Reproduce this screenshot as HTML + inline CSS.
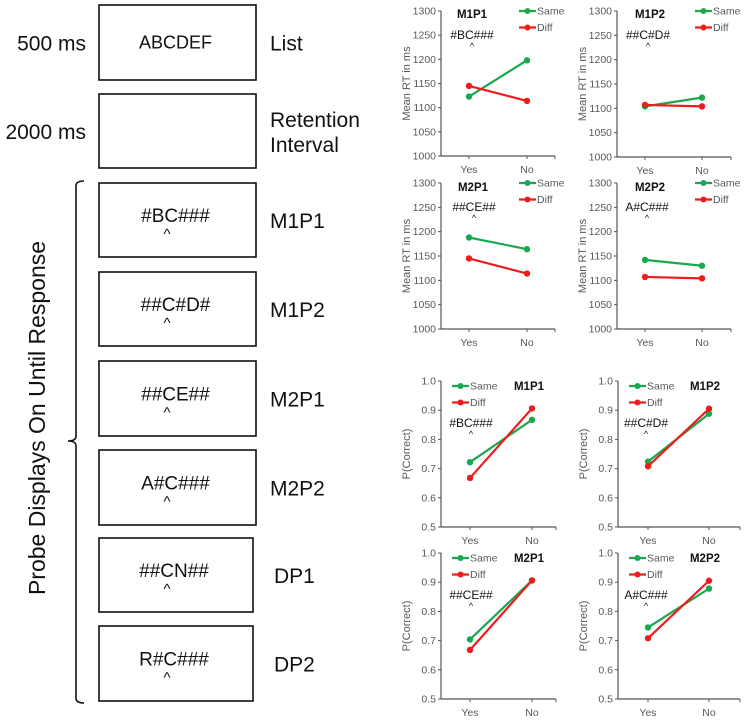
<!DOCTYPE html>
<html><head><meta charset="utf-8"><style>
html,body{margin:0;padding:0;background:#fff;}
svg{display:block;font-family:"Liberation Sans",sans-serif;}
</style></head><body>
<svg id="root" width="750" height="724" viewBox="0 0 750 724">
<g id="diagram"></g>
<g id="charts"></g>
</svg>
<script>
const NS="http://www.w3.org/2000/svg";
function mk(tag,attrs,parent,txt){const e=document.createElementNS(NS,tag);for(const k in attrs)e.setAttribute(k,attrs[k]);if(txt!==undefined)e.textContent=txt;parent.appendChild(e);return e;}
const D=document.getElementById('diagram');
const boxes=[
 {y:5,h:75,t:"ABCDEF",lab:["List"],time:"500 ms",caret:false,name:"list-box"},
 {y:94,h:74,t:"",lab:["Retention","Interval"],time:"2000 ms",caret:false,name:"retention-box"},
 {y:183,h:74,t:"#BC###",lab:["M1P1"],caret:true,name:"m1p1-box"},
 {y:272,h:74,t:"##C#D#",lab:["M1P2"],caret:true,name:"m1p2-box"},
 {y:361,h:75,t:"##CE##",lab:["M2P1"],caret:true,name:"m2p1-box"},
 {y:450,h:75,t:"A#C###",lab:["M2P2"],caret:true,name:"m2p2-box"},
 {y:538,h:74,t:"##CN##",lab:["DP1"],caret:true,name:"dp1-box",x2:253},
 {y:626,h:75,t:"R#C###",lab:["DP2"],caret:true,name:"dp2-box",x2:253}
];
boxes.forEach(b=>{
 const x2=b.x2||256;
 const g=mk('g',{},D);
 
 
 mk('rect',{x:99,y:b.y,width:x2-99,height:b.h,fill:'#fff',stroke:'#111','stroke-width':1.6},g);
 if(b.t){const tt=mk('text',{x:(99+x2)/2-2,y:b.y+b.h/2+(b.caret?2:6),'text-anchor':'middle','font-size':b.caret?19:18,fill:'#111'},g,b.t);
  }
 if(b.caret){const c=mk('text',{x:167,y:b.y+b.h/2+19,'text-anchor':'middle','font-size':15,fill:'#111'},g,'^');
  }
 const lx=b.lab.length>1?270:(b.x2?274:270);
 b.lab.forEach((l,i)=>{const lt=mk('text',{x:lx,y:b.y+b.h/2+8+(b.lab.length>1?(i*25-12):0),'font-size':21,fill:'#111'},g,l);
  });
 if(b.time){const tm=mk('text',{x:86,y:b.y+b.h/2+8,'text-anchor':'end','font-size':21,fill:'#111'},g,b.time);
  }
});
const br=mk('path',{d:'M84 181 Q76 181 76 186 L76 436 Q76 441 68 441 Q76 441 76 446 L76 698 Q76 703 84 703',fill:'none',stroke:'#111','stroke-width':1.6},D);

const vl=mk('text',{x:0,y:0,transform:'translate(45,418) rotate(-90)','text-anchor':'middle','font-size':23,fill:'#111'},D,'Probe Displays On Until Response');


const categories=["Yes","No"];
const rtTicks=[1000,1050,1100,1150,1200,1250,1300];
const pTicks=[0.5,0.6,0.7,0.8,0.9,1.0];
const rtM1P1Same=[1123,1198], rtM1P1Diff=[1145,1114];
const rtM1P2Same=[1104,1122], rtM1P2Diff=[1107,1104];
const rtM2P1Same=[1188,1164], rtM2P1Diff=[1145,1114];
const rtM2P2Same=[1142,1130], rtM2P2Diff=[1107,1104];
const pM1P1Same=[0.722,0.867], pM1P1Diff=[0.668,0.906];
const pM1P2Same=[0.724,0.888], pM1P2Diff=[0.708,0.905];
const pM2P1Same=[0.704,0.906], pM2P1Diff=[0.668,0.906];
const pM2P2Same=[0.745,0.878], pM2P2Diff=[0.708,0.905];

const C=document.getElementById('charts');
const GREEN='#1aa84f',RED='#ee1c1c',GRAY='#595959';
function chart(o){
 const g=mk('g',{},C);
 
 
 const ticks=o.ticks,lo=ticks[0],hi=ticks[ticks.length-1];
 const yS=v=>o.y1+(hi-v)/(hi-lo)*(o.y0-o.y1);
 const xS=i=>o.xs[i];
 mk('line',{x1:o.ax,y1:o.y1,x2:o.ax,y2:o.y0,stroke:'#555','stroke-width':1.2},g);
 mk('line',{x1:o.ax,y1:o.y0,x2:o.xe,y2:o.y0,stroke:'#555','stroke-width':1.2},g);
 ticks.forEach(t=>{
  mk('line',{x1:o.ax-3,y1:yS(t),x2:o.ax,y2:yS(t),stroke:'#555'},g);
  const tl=mk('text',{x:o.ax-5,y:yS(t)+3.5,'text-anchor':'end','font-size':10.5,fill:GRAY},g,o.fmt(t));
  
 });
 categories.forEach((c,i)=>{
  mk('line',{x1:xS(i),y1:o.y0,x2:xS(i),y2:o.y0+3,stroke:'#555'},g);
  const xl=mk('text',{x:xS(i),y:o.y0+17,'text-anchor':'middle','font-size':10.5,fill:GRAY},g,c);
  
 });
 mk('line',{x1:o.xe,y1:o.y0,x2:o.xe,y2:o.y0+3,stroke:'#555'},g);
 const yt=mk('text',{x:0,y:0,transform:`translate(${o.ax-31},${(o.y0+o.y1)/2}) rotate(-90)`,'text-anchor':'middle','font-size':11,fill:GRAY},g,o.ylab);
 
 [[o.same,GREEN,'same'],[o.diff,RED,'diff']].forEach(([arr,col,nm])=>{
  const pts=arr.map((v,i)=>xS(i)+','+yS(v)).join(' ');
  const pl=mk('polyline',{points:pts,fill:'none',stroke:col,'stroke-width':2.2},g);
  
  arr.forEach((v,i)=>{const p=mk('circle',{cx:xS(i),cy:yS(v),r:3.2,fill:col},g);
   });
 });
 [['Same',GREEN,0],['Diff',RED,1]].forEach(([l,col,i])=>{
  const ly=o.ly+i*16.5;
  const lg=mk('g',{},g);
  
  
  mk('line',{x1:o.lx,y1:ly,x2:o.lx+17,y2:ly,stroke:col,'stroke-width':2.2},lg);
  mk('circle',{cx:o.lx+8.5,cy:ly,r:3,fill:col},lg);
  mk('text',{x:o.lx+18,y:ly+3.5,'font-size':10.5,fill:GRAY},lg,l);
 });
 const ti=mk('text',{x:o.tx,y:o.ty,'text-anchor':'middle','font-size':11.5,'font-weight':'bold',fill:'#111'},g,o.title);
 
 const pr=mk('text',{x:o.px,y:o.py,'text-anchor':'middle','font-size':12,fill:'#111'},g,o.probe);
 
 const ca=mk('text',{x:o.px,y:o.py+10,'text-anchor':'middle','font-size':9,fill:'#111'},g,'^');
 
}
const rtF=t=>String(t), pF=t=>t.toFixed(1);
chart({name:'rt-m1p1-chart',ticks:rtTicks,fmt:rtF,ax:441,xe:555,y1:11,y0:156,xs:[469,527],ylab:'Mean RT in ms',same:rtM1P1Same,diff:rtM1P1Diff,lx:519,ly:11,tx:472,ty:18,title:'M1P1',probe:'#BC###',px:472,py:39});
chart({name:'rt-m1p2-chart',ticks:rtTicks,fmt:rtF,ax:617,xe:731,y1:11,y0:157,xs:[645,702],ylab:'Mean RT in ms',same:rtM1P2Same,diff:rtM1P2Diff,lx:695,ly:11,tx:650,ty:18,title:'M1P2',probe:'##C#D#',px:648,py:39});
chart({name:'rt-m2p1-chart',ticks:rtTicks,fmt:rtF,ax:441,xe:555,y1:183,y0:329,xs:[469,527],ylab:'Mean RT in ms',same:rtM2P1Same,diff:rtM2P1Diff,lx:519,ly:183,tx:473,ty:191,title:'M2P1',probe:'##CE##',px:474,py:211});
chart({name:'rt-m2p2-chart',ticks:rtTicks,fmt:rtF,ax:617,xe:731,y1:183,y0:329,xs:[645,702],ylab:'Mean RT in ms',same:rtM2P2Same,diff:rtM2P2Diff,lx:695,ly:183,tx:650,ty:191,title:'M2P2',probe:'A#C###',px:647,py:211});
chart({name:'p-m1p1-chart',ticks:pTicks,fmt:pF,ax:441,xe:556,y1:381,y0:527,xs:[470,532],ylab:'P(Correct)',same:pM1P1Same,diff:pM1P1Diff,lx:452,ly:386,tx:529,ty:390,title:'M1P1',probe:'#BC###',px:471,py:427});
chart({name:'p-m1p2-chart',ticks:pTicks,fmt:pF,ax:618,xe:740,y1:381,y0:527,xs:[648,709],ylab:'P(Correct)',same:pM1P2Same,diff:pM1P2Diff,lx:629,ly:386,tx:705,ty:390,title:'M1P2',probe:'##C#D#',px:646,py:427});
chart({name:'p-m2p1-chart',ticks:pTicks,fmt:pF,ax:441,xe:556,y1:553,y0:699,xs:[470,532],ylab:'P(Correct)',same:pM2P1Same,diff:pM2P1Diff,lx:452,ly:558,tx:529,ty:562,title:'M2P1',probe:'##CE##',px:471,py:599});
chart({name:'p-m2p2-chart',ticks:pTicks,fmt:pF,ax:618,xe:740,y1:553,y0:699,xs:[648,709],ylab:'P(Correct)',same:pM2P2Same,diff:pM2P2Diff,lx:629,ly:558,tx:705,ty:562,title:'M2P2',probe:'A#C###',px:646,py:599});
</script>
</body></html>
